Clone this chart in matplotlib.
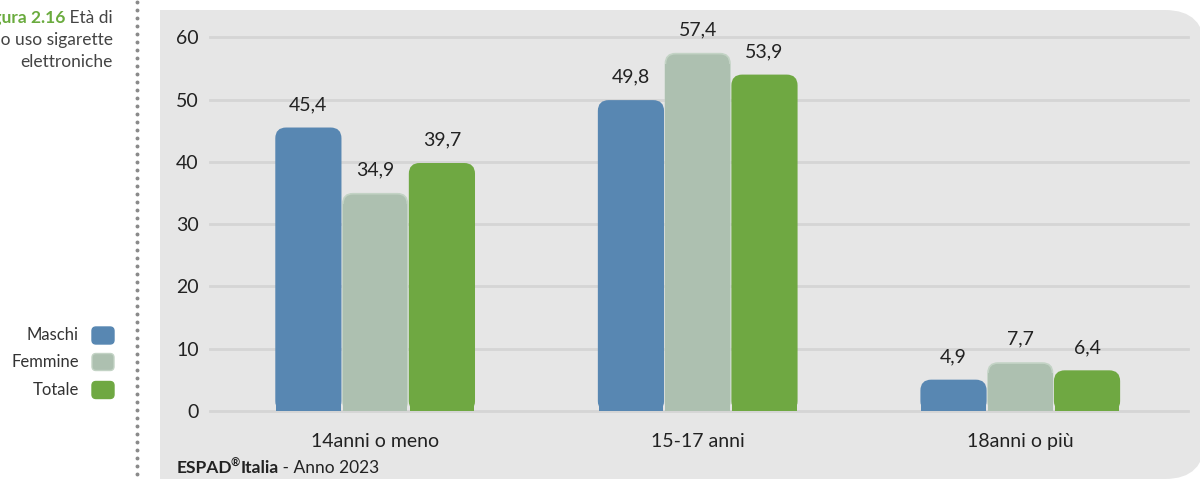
import numpy as np
import matplotlib.pyplot as plt
from matplotlib.patches import FancyBboxPatch, Rectangle
from matplotlib.lines import Line2D

plt.rcParams['font.family'] = ['Lato', 'DejaVu Sans']

categories = ['14anni o meno', '15-17 anni', '18anni o più']
series = ['Maschi', 'Femmine', 'Totale']
maschi = [45.4, 49.8, 4.9]
femmine = [34.9, 57.4, 7.7]
totale = [39.7, 53.9, 6.4]
yticks = [0, 10, 20, 30, 40, 50, 60]

colors = ['#5887b2', '#adc0b0', '#6fa842']
edges = ['#5887b2', '#c3d3c5', '#6fa842']
text_dark = '#222222'

W, H = 1200, 479
fig = plt.figure(figsize=(W / 100, H / 100), dpi=100)
fig.patch.set_facecolor('white')


def px(x, y):
    # pixel position measured from the top-left -> figure fraction
    return x / W, 1 - y / H


# grey panel behind the chart, rounded on the right side
panel_round = FancyBboxPatch((1000, 0), 205, H - 10, boxstyle='round,pad=0,rounding_size=40',
                             transform=None, facecolor='#e6e6e6', edgecolor='none', zorder=-2)
panel_left = Rectangle((160, 0), 900, H - 10, transform=None,
                       facecolor='#e6e6e6', edgecolor='none', zorder=-2)
fig.patches.extend([panel_left, panel_round])

# dotted separator
ys = np.arange(2, H, 8)
fig.add_artist(Line2D([137 / W] * len(ys), 1 - ys / H, transform=fig.transFigure,
                      linestyle='none', marker='o', markersize=1.8, color='#8a8a8a'))

ax = fig.add_axes([210 / W, (H - 411) / H, 978 / W, 386 / H])
ax.set_facecolor('none')
ax.set_xlim(-0.512, 2.52)
ax.set_ylim(0, 62)

x = np.arange(len(categories))
width = 0.2
step = 0.207
data = [maschi, femmine, totale]

# rounding in data units (x) and aspect so corners come out circular
r_x = 0.031
aspect = (62 / 386) * (978 / 3.032)

for i, vals in enumerate(data):
    bars = ax.bar(x + (i - 1) * step, vals, width, color=colors[i], zorder=3)
    for rect, v in zip(bars, vals):
        rect.set_visible(False)
        x0, w, h = rect.get_x(), rect.get_width(), rect.get_height()
        r_y = r_x * aspect
        top = FancyBboxPatch((x0, 0), w, h, boxstyle=f'round,pad=0,rounding_size={r_x}',
                             mutation_aspect=aspect, facecolor=colors[i],
                             edgecolor=edges[i], linewidth=1.2, zorder=3)
        ax.add_patch(top)
        ax.add_patch(Rectangle((x0, 0), w, max(h - r_y, 0), facecolor=colors[i],
                               edgecolor='none', zorder=3))
        ax.annotate(f'{v:.1f}'.replace('.', ','), (x0 + w / 2, h), xytext=(0, 11),
                    textcoords='offset points', ha='center', va='bottom',
                    fontsize=14, color=text_dark)

ax.set_yticks(yticks)
ax.yaxis.grid(True, color='#d5d5d5', linewidth=2, zorder=1)
ax.set_axisbelow(True)
ax.set_xticks(x)
ax.set_xticklabels(categories)
ax.tick_params(axis='both', length=0, labelsize=14, colors=text_dark)
ax.tick_params(axis='y', pad=8)
ax.tick_params(axis='x', pad=16)
for s in ax.spines.values():
    s.set_visible(False)
for gl in ax.get_ygridlines():
    gl.set_clip_on(False)

# legend on the left margin
legend_y = [335.5, 362, 390]
for name, c, e, ly in zip(series, colors, edges, legend_y):
    fig.patches.append(FancyBboxPatch((92, H - ly - 8.5), 22, 17,
                                      boxstyle='round,pad=0,rounding_size=4', transform=None,
                                      facecolor=c, edgecolor=e, linewidth=1))
    fig.text(*px(79, ly), name, ha='right', va='center', fontsize=12, color='#333333')

# figure title, right aligned, overflowing the left edge
renderer = fig.canvas.get_renderer()
t1 = fig.text(*px(113, 18), ' Età di', ha='right', va='center', fontsize=12.5, color='#444444')
bb = t1.get_window_extent(renderer)
fig.text(bb.x0 / W, 1 - 18 / H, 'Figura 2.16', ha='right', va='center', fontsize=12.5,
         color='#6aab3e', fontweight='bold')
fig.text(*px(113, 40), 'primo uso sigarette', ha='right', va='center', fontsize=12.5, color='#444444')
fig.text(*px(113, 62), 'elettroniche', ha='right', va='center', fontsize=12.5, color='#444444')

# source line: bold name with a raised registered mark, then the year
sy = 1 - 468 / H
s1 = fig.text(*px(177, 468), 'ESPAD', ha='left', va='center', fontsize=12.5,
              fontweight='bold', color=text_dark)
bb = s1.get_window_extent(renderer)
s2 = fig.text((bb.x1 - 2) / W, sy + 0.009, '®', ha='left', va='center', fontsize=8,
              fontweight='bold', color=text_dark)
bb = s2.get_window_extent(renderer)
s3 = fig.text((bb.x1 + 0.5) / W, sy, 'Italia', ha='left', va='center', fontsize=12.5,
              fontweight='bold', color=text_dark)
bb = s3.get_window_extent(renderer)
fig.text(bb.x1 / W, sy, ' - Anno 2023', ha='left', va='center', fontsize=12.5,
         color=text_dark)

fig.savefig('out.png', dpi=100)
